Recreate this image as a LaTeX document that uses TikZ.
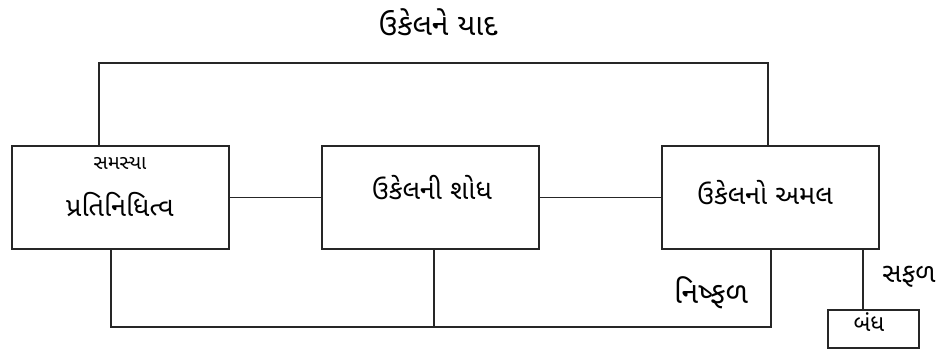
\documentclass[tikz,border=0pt]{standalone}
\usepackage{fontspec}
\newfontfamily\guj[Script=Gujarati]{Noto Sans Gujarati UI}
\begin{document}
\begin{tikzpicture}[x=1pt,y=-1pt,
  line/.style={line width=1.8pt, draw=black!85},
  box/.style={draw=black!85, line width=1.8pt, minimum width=217pt, minimum height=103pt, inner sep=0pt},
  lbl/.style={font=\guj\fontsize{27}{30}\selectfont, inner sep=0pt},
  small/.style={font=\guj\fontsize{20}{24}\selectfont, inner sep=0pt}]
\useasboundingbox (0,0) rectangle (951,350);
\node[box] (b1) at (120.5,197.5) {};
\node[box] (b2) at (430.5,197.5) {};
\node[box] (b3) at (770.5,197.5) {};
\node[draw=black!85, line width=1.8pt, minimum width=91pt, minimum height=38pt, inner sep=0pt] (bandh) at (873.5,329) {};
\node[small] (t1a) at (120,163) {સમસ્યા};
\node[lbl] (t1b) at (120,205) {પ્રતિનિધિત્વ};
\node[lbl] (t2) at (432,188) {ઉકેલની શોધ};
\node[lbl] (t3) at (765,193) {ઉકેલનો અમલ};
\node[lbl, font=\guj\fontsize{30}{34}\selectfont] (top) at (438,22) {ઉકેલને યાદ};
\node[lbl, font=\guj\fontsize{30}{34}\selectfont] (fail) at (711,293) {નિષ્ફળ};
\node[lbl] (succ) at (909,277) {સફળ};
\node[small, font=\guj\fontsize{23}{26}\selectfont] (bt) at (869,322) {બંધ};
\coordinate (c1) at (99,63);
\coordinate (c2) at (768,63);
\coordinate (u1) at (111,327);
\coordinate (u2) at (434,327);
\coordinate (u3) at (771,327);
\coordinate (s) at (863,0);
\draw[line] (b1) -- (b2);
\draw[line] (b2) -- (b3);
\draw[line] (b1.north -| c1) -- (c1) -- (c2) -- (b3.north -| c2);
\draw[line] (b1.south -| u1) -- (u1) -- (u3) -- (b3.south -| u3);
\draw[line] (b2.south -| u2) -- (u2);
\draw[line] (b3.south -| s) -- (bandh.north -| s);
\end{tikzpicture}
\end{document}
